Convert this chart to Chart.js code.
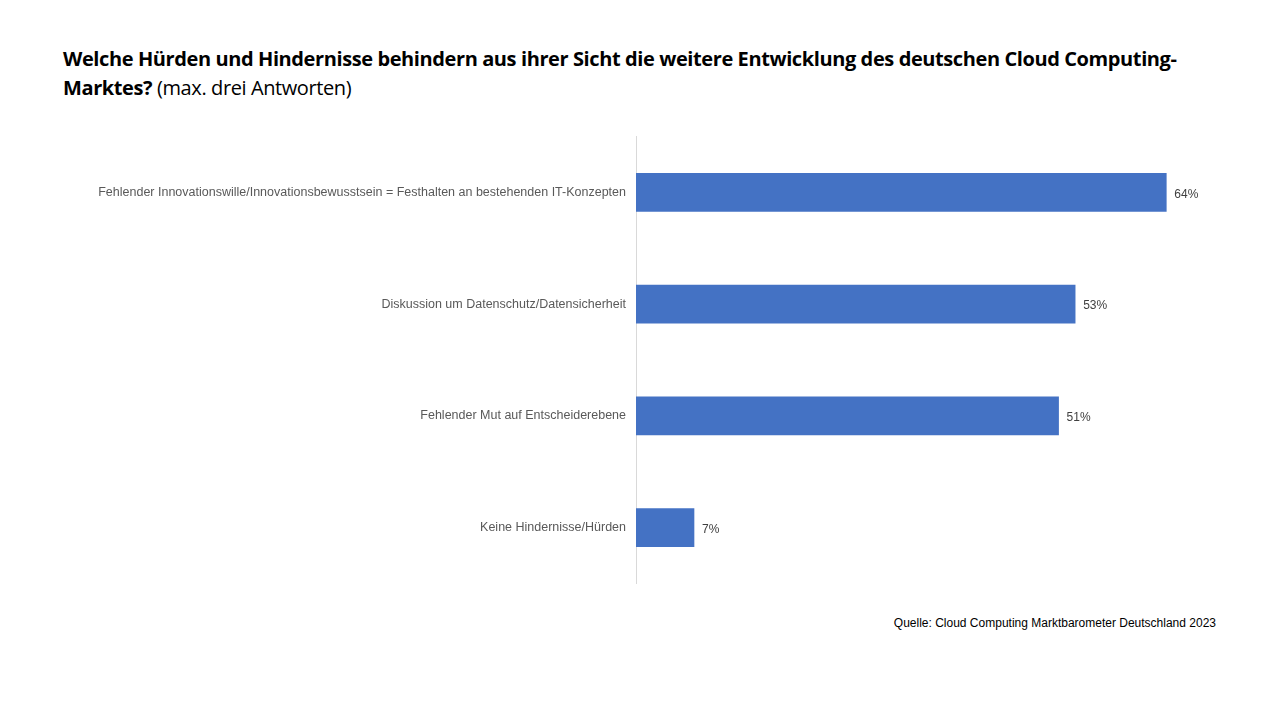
<!DOCTYPE html>
<html><head><meta charset="utf-8">
<script src="https://cdn.jsdelivr.net/npm/chart.js@4"></script>
<style>
body{margin:0;width:1280px;height:720px;background:#fff;position:relative;font-family:"Open Sans",sans-serif;overflow:hidden}
#t{position:absolute;left:63px;top:44px;width:1170px;font-size:20px;line-height:29px;color:#000;letter-spacing:-0.4px}
#s{position:absolute;right:64px;top:616px;font-family:"Liberation Sans",Arial,sans-serif;font-size:12px;color:#000}
#c{position:absolute;left:0;top:127px;width:1216px;height:466px}
</style></head><body>
<div id="t"><b>Welche Hürden und Hindernisse behindern aus ihrer Sicht die weitere Entwicklung des deutschen Cloud Computing-Marktes?</b> (max. drei Antworten)</div>
<div id="c"><canvas id="cv"></canvas></div>
<div id="s">Quelle: Cloud Computing Marktbarometer Deutschland 2023</div>
<script>
const categories=["Fehlender Innovationswille/Innovationsbewusstsein = Festhalten an bestehenden IT-Konzepten","Diskussion um Datenschutz/Datensicherheit","Fehlender Mut auf Entscheiderebene","Keine Hindernisse/Hürden"];
const values=[64,53,51,7];
const labelsPlugin={id:'lbl',afterDatasetsDraw(ch){const c=ch.ctx;c.save();c.font='12px "Liberation Sans", Arial, sans-serif';c.fillStyle='#404040';c.textBaseline='middle';
ch.getDatasetMeta(0).data.forEach((b,i)=>{c.fillText(values[i]+'%',b.x+8,b.y+2);});c.restore();}};
new Chart(document.getElementById('cv'),{type:'bar',data:{labels:categories,datasets:[{data:values,backgroundColor:'#4472c4',barThickness:38}]},
options:{indexAxis:'y',responsive:true,maintainAspectRatio:false,animation:false,layout:{padding:0},
plugins:{legend:{display:false},tooltip:{enabled:false}},
scales:{x:{display:false,min:0,max:70},
y:{afterFit(s){s.width=636;},grid:{display:false},border:{display:true,color:'#d9d9d9'},
ticks:{color:'#595959',padding:2,font:{family:'"Liberation Sans", Arial, sans-serif',size:12.5}}}}},
plugins:[labelsPlugin]});
</script></body></html>
